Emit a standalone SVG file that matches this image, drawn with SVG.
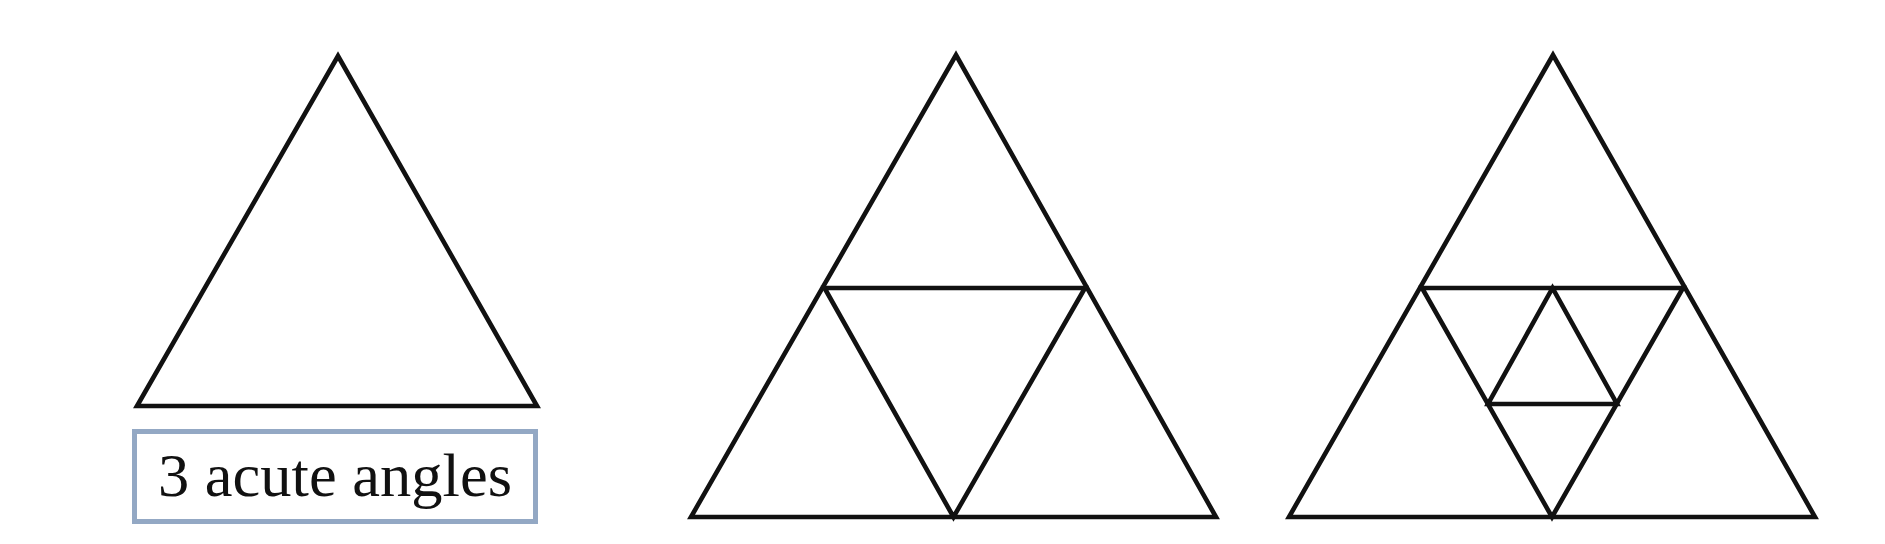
<svg xmlns="http://www.w3.org/2000/svg" width="1885" height="544" viewBox="0 0 1885 544">
  <style>
    .tri { fill: none; stroke: #111; stroke-width: 4.6; stroke-linejoin: miter; stroke-miterlimit: 20; }
    .box { fill: #fff; stroke: #93a8c4; stroke-width: 5; }
    .lbl { font-family: "Liberation Serif", "Times New Roman", serif; font-size: 61px; fill: #111; }
  </style>
  <rect width="1885" height="544" fill="#fff"/>
  <g id="triangle-1">
    <polygon class="tri" points="338,56 137,406 537,406"/>
  </g>
  <g id="label-1">
    <rect class="box" x="134.5" y="431.5" width="401" height="90"/>
    <text class="lbl" x="335" y="496" text-anchor="middle" textLength="354" lengthAdjust="spacingAndGlyphs">3 acute angles</text>
  </g>
  <g id="triangle-2">
    <polygon class="tri" points="956,55 691,517 1216,517"/>
    <polygon class="tri" points="824.5,288 1085,288 953.5,517"/>
  </g>
  <g id="triangle-3">
    <polygon class="tri" points="1553,55 1289,517 1815,517"/>
    <polygon class="tri" points="1422,288 1683,288 1552,517"/>
    <polygon class="tri" points="1552.5,288 1488,404 1617,404"/>
  </g>
  <g id="connectors"></g>
</svg>
